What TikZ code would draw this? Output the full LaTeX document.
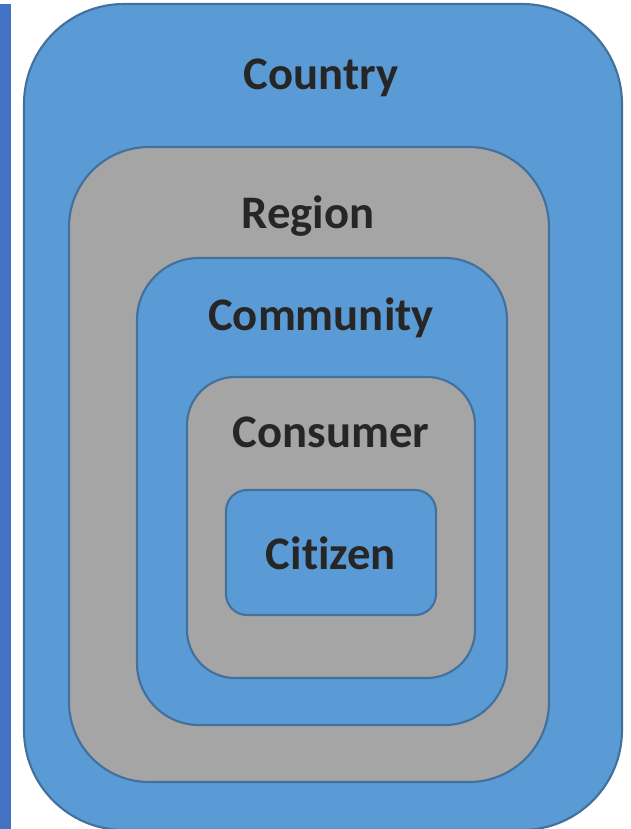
\documentclass[tikz,border=0pt]{standalone}
\usepackage{fontspec}
\setmainfont{Carlito}[Ligatures=NoCommon]
\definecolor{boxblue}{HTML}{5B9BD5}
\definecolor{boxgray}{HTML}{A5A5A5}
\definecolor{edge}{HTML}{41719C}
\definecolor{bar}{HTML}{4472C4}
\definecolor{txt}{HTML}{262626}
\begin{document}
\begin{tikzpicture}[x=0.75pt,y=-0.75pt,
  layer/.style={draw=edge, line width=1.6pt, inner sep=0pt, outer sep=0pt},
  lbl/.style={anchor=base, text=txt, font=\bfseries\fontsize{35}{40}\selectfont, inner sep=0pt}]
\useasboundingbox (0,0) rectangle (631,829);
\fill[bar] (0,4) rectangle (11,829);
\node[layer, fill=boxblue, minimum width=448.5pt, minimum height=619.5pt, rounded corners=75pt] (country) at (323,417) {};
\node[layer, fill=boxgray, minimum width=360pt, minimum height=476.25pt, rounded corners=60pt] (region) at (309,464.5) {};
\node[layer, fill=boxblue, minimum width=277.5pt, minimum height=350.25pt, rounded corners=46.5pt] (community) at (322,491.5) {};
\node[layer, fill=boxgray, minimum width=216pt, minimum height=225.75pt, rounded corners=36pt] (consumer) at (331,527.5) {};
\node[layer, fill=boxblue, minimum width=157.5pt, minimum height=93.75pt, rounded corners=15.75pt] (citizen) at (331,552.5) {};
\node[lbl] (tcountry) at (321,89) {Country};
\node[lbl] (tregion) at (308,228) {Region};
\node[lbl] (tcommunity) at (321,330) {Community};
\node[lbl] (tconsumer) at (331,447) {Consumer};
\node[lbl] (tcitizen) at (331,569) {Citizen};
\end{tikzpicture}
\end{document}
